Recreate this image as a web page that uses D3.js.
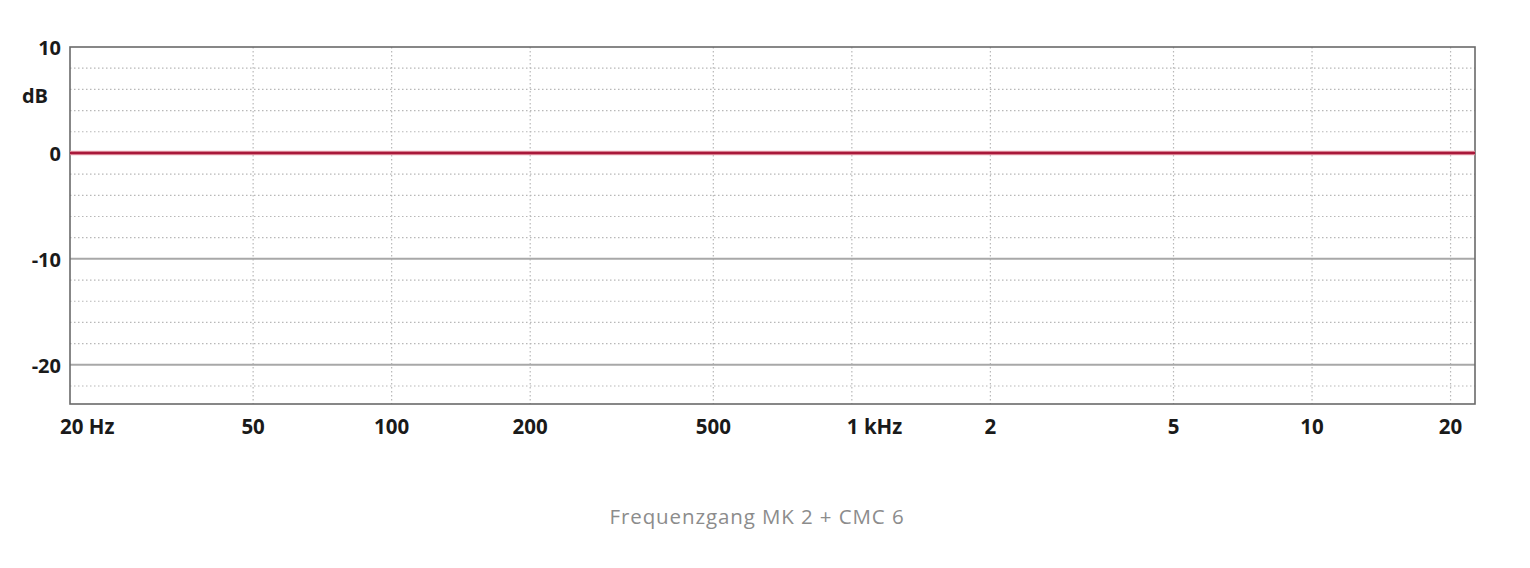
<!DOCTYPE html>
<html><head><meta charset="utf-8">
<script src="https://cdn.jsdelivr.net/npm/d3@7"></script>
<style>
html,body{margin:0;padding:0;background:#fff;}
svg{display:block;}
</style></head>
<body>
<svg id="c" width="1530" height="568"></svg>
<script>
// Data
const freqs = [20, 50, 100, 200, 500, 1000, 2000, 5000, 10000, 20000, 22600];
const levels = [0, 0, 0, 0, 0, 0, 0, 0, 0, 0, 0];
const xTickValues = [20, 50, 100, 200, 500, 1000, 2000, 5000, 10000, 20000];
const xTickLabels = ["20 Hz", "50", "100", "200", "500", "1 kHz", "2", "5", "10", "20"];
const yTickValues = [10, 0, -10, -20];
const yTickLabels = ["10", "0", "-10", "-20"];
const yMinorValues = [8, 6, 4, 2, -2, -4, -6, -8, -12, -14, -16, -18, -22];
const yMajorGrid = [-10, -20];
const caption = "Frequenzgang MK 2 + CMC 6";
const yUnit = "dB";

const svg = d3.select("#c");
const L = 70, R = 1475, T = 47, B = 404;
const x = d3.scaleLog().domain([20, 22600]).range([L, R]);
const y = d3.scaleLinear().domain([-23.7, 10]).range([B, T]);

const g = svg.append("g");
// minor dotted horizontal
g.selectAll("line.hm").data(yMinorValues).join("line")
  .attr("x1", L).attr("x2", R).attr("y1", d => y(d)).attr("y2", d => y(d))
  .attr("stroke", "#b8b8b8").attr("stroke-width", 1.2).attr("stroke-dasharray", "1.5,2.5");
// vertical dotted
g.selectAll("line.v").data(xTickValues.slice(1)).join("line")
  .attr("x1", d => x(d)).attr("x2", d => x(d)).attr("y1", T).attr("y2", B)
  .attr("stroke", "#b8b8b8").attr("stroke-width", 1.2).attr("stroke-dasharray", "1.5,2.5");
// major solid
g.selectAll("line.hM").data(yMajorGrid).join("line")
  .attr("x1", L).attr("x2", R).attr("y1", d => y(d)).attr("y2", d => y(d))
  .attr("stroke", "#a8a8a8").attr("stroke-width", 2);
// border
g.append("rect").attr("x", L).attr("y", T).attr("width", R - L).attr("height", B - T)
  .attr("fill", "none").attr("stroke", "#6a6a6a").attr("stroke-width", 1.6);

// curve
const line = d3.line().x((d, i) => x(freqs[i])).y(d => y(d));
g.append("path").datum(levels).attr("d", line)
  .attr("fill", "none").attr("stroke", "#e8a0ac").attr("stroke-width", 4.5);
g.append("path").datum(levels).attr("d", line)
  .attr("fill", "none").attr("stroke", "#a8183a").attr("stroke-width", 2.5);

// y labels
const font = "'Open Sans', 'Noto Sans', sans-serif";
g.selectAll("text.yl").data(yTickValues).join("text")
  .attr("x", 61).attr("y", d => y(d) + 1).attr("dy", "0.36em")
  .attr("text-anchor", "end").attr("font-family", font).attr("font-weight", 700)
  .attr("font-size", 20).attr("fill", "#1a1a1a")
  .text((d, i) => yTickLabels[i]);
g.append("text").attr("x", 48).attr("y", y(5.4)).attr("dy", "0.36em")
  .attr("text-anchor", "end").attr("font-family", font).attr("font-weight", 700)
  .attr("font-size", 20).attr("fill", "#1a1a1a").text(yUnit);

// x labels
g.selectAll("text.xl").data(xTickValues).join("text")
  .attr("x", (d, i) => {
    const lab = xTickLabels[i];
    if (lab.indexOf("Hz") >= 0) {
      return x(d) - (lab.startsWith("1 ") ? 5 : 10);
    }
    return x(d);
  })
  .attr("y", 434)
  .attr("text-anchor", (d, i) => xTickLabels[i].indexOf("Hz") >= 0 ? "start" : "middle")
  .attr("font-family", font).attr("font-weight", 700)
  .attr("font-size", 20.5).attr("fill", "#1a1a1a")
  .text((d, i) => xTickLabels[i]);

// caption
const cap = svg.append("text").attr("x", 757).attr("y", 524).attr("text-anchor", "middle")
  .attr("font-family", "'Open Sans', Lato, sans-serif").attr("font-size", 20.5)
  .attr("fill", "#8c8c8c").text(caption);
const w = cap.node().getComputedTextLength();
const target = 295;
cap.attr("letter-spacing", Math.max(0, (target - w) / caption.length).toFixed(2));
</script>
</body></html>
